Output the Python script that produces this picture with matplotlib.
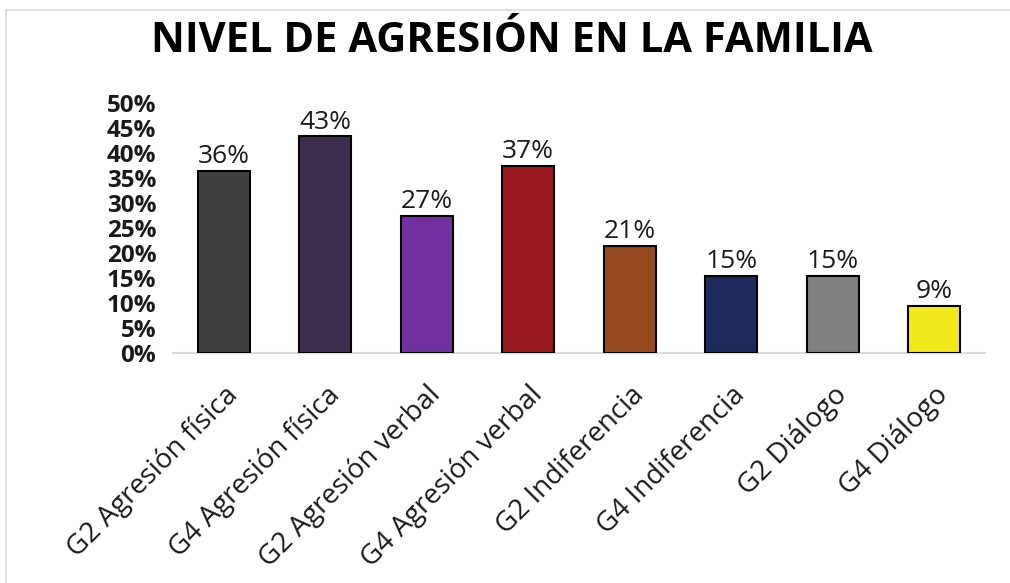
import matplotlib
matplotlib.use("Agg")
import matplotlib.pyplot as plt
from matplotlib.lines import Line2D
from matplotlib.ticker import MultipleLocator, FuncFormatter

categories = ["G2 Agresión física", "G4 Agresión física", "G2 Agresión verbal",
              "G4 Agresión verbal", "G2 Indiferencia", "G4 Indiferencia",
              "G2 Diálogo", "G4 Diálogo"]
values = [0.365, 0.434, 0.274, 0.374, 0.214, 0.154, 0.154, 0.094]
labels = ["36%", "43%", "27%", "37%", "21%", "15%", "15%", "9%"]
colors = ["#404040", "#3d2e50", "#7030a0", "#9a1a1f", "#974a20", "#1e2a5c",
          "#808080", "#f2e81c"]

plt.rcParams['font.family'] = ['Open Sans', 'DejaVu Sans']

fig = plt.figure(figsize=(10.10, 5.83), dpi=100)
ax = fig.add_axes([173/1010, 1 - 353/583, 812/1010, 250/583])

x = list(range(len(categories)))
bars = ax.bar(x, values, width=0.51, color=colors, edgecolor="black", linewidth=1.5, zorder=3)
for b, lab in zip(bars, labels):
    ax.text(b.get_x() + b.get_width()/2, b.get_height() + 0.003, lab,
            ha="center", va="bottom", fontsize=19, color="#1a1a1a")

ax.set_xlim(-0.5, len(categories) - 0.5)
ax.set_ylim(0, 0.5)
ax.yaxis.set_major_locator(MultipleLocator(0.05))
ax.yaxis.set_major_formatter(FuncFormatter(lambda v, p: f"{round(v*100)}%"))
for s in ["top", "right", "left"]:
    ax.spines[s].set_visible(False)
ax.spines["bottom"].set_color("#d9d9d9")
ax.spines["bottom"].set_linewidth(1.5)
ax.tick_params(axis="both", length=0)
ax.tick_params(axis="y", pad=12)
ax.set_xticks(x)
ax.set_xticklabels(categories, rotation=45, ha="right", rotation_mode="anchor",
                   fontsize=20, color="#1a1a1a")
for t in ax.get_yticklabels():
    t.set_fontsize(17.5)
    t.set_fontweight("bold")
    t.set_color("#1a1a1a")
ax.tick_params(axis="x", pad=20)

fig.text(512/1010, 1 - 41/583, "NIVEL DE AGRESIÓN EN LA FAMILIA", ha="center", va="center",
         fontsize=30, fontweight="bold", color="black")

fig.add_artist(Line2D([6/1010, 1], [1 - 9.5/583, 1 - 9.5/583], transform=fig.transFigure,
                      color="#d9d9d9", linewidth=1.2))
fig.add_artist(Line2D([6/1010, 6/1010], [0, 1 - 9.5/583], transform=fig.transFigure,
                      color="#d9d9d9", linewidth=1.2))

fig.savefig("out.png", dpi=100)
